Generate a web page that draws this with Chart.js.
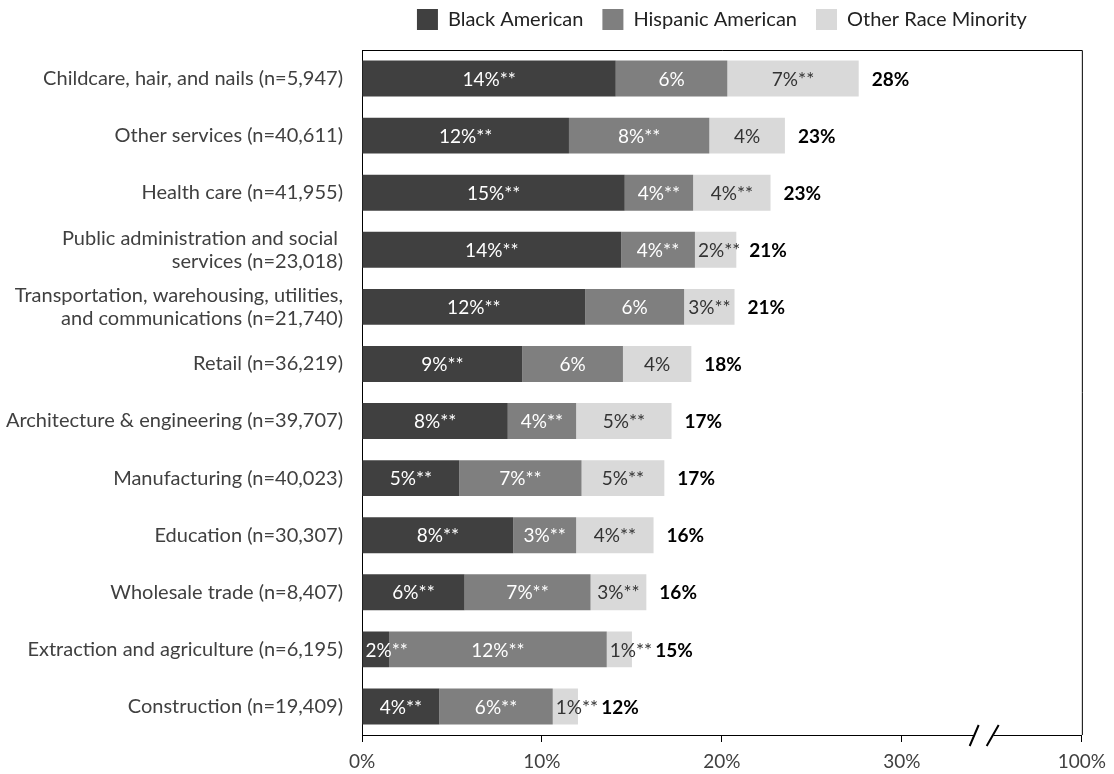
<!DOCTYPE html>
<html>
<head>
<meta charset="utf-8">
<script src="https://cdn.jsdelivr.net/npm/chart.js@4.4.1/dist/chart.umd.min.js"></script>
<style>
  html, body { margin: 0; padding: 0; background: #fff; }
  #wrap { width: 1114px; height: 774px; }
</style>
</head>
<body>
<div id="wrap"><canvas id="chart" width="1114" height="774"></canvas></div>
<script>
const categories = [
    'Childcare, hair, and nails (n=5,947)',
    'Other services (n=40,611)',
    'Health care (n=41,955)',
    ['Public administration and social ', 'services (n=23,018)'],
    ['Transportation, warehousing, utilities,', 'and communications (n=21,740)'],
    'Retail (n=36,219)',
    'Architecture & engineering (n=39,707)',
    'Manufacturing (n=40,023)',
    'Education (n=30,307)',
    'Wholesale trade (n=8,407)',
    'Extraction and agriculture (n=6,195)',
    'Construction (n=19,409)'
];

// bar lengths (percent)
const blackValues = [14.1, 11.5, 14.6, 14.4, 12.4, 8.9, 8.1, 5.4, 8.4, 5.7, 1.5, 4.3];
const hispanicValues = [6.2, 7.8, 3.8, 4.1, 5.5, 5.6, 3.8, 6.8, 3.5, 7.0, 12.1, 6.3];
const otherValues = [7.3, 4.2, 4.3, 2.3, 2.8, 3.8, 5.3, 4.6, 4.3, 3.1, 1.4, 1.4];

// printed labels
const blackLabels = ['14%**', '12%**', '15%**', '14%**', '12%**', '9%**', '8%**', '5%**', '8%**', '6%**', '2%**', '4%**'];
const hispanicLabels = ['6%', '8%**', '4%**', '4%**', '6%', '6%', '4%**', '7%**', '3%**', '7%**', '12%**', '6%**'];
const otherLabels = ['7%**', '4%', '4%**', '2%**', '3%**', '4%', '5%**', '5%**', '4%**', '3%**', '1%**', '1%**'];
const totalLabels = ['28%', '23%', '23%', '21%', '21%', '18%', '17%', '17%', '16%', '16%', '15%', '12%'];

const xTicks = [0, 10, 20, 30, 40];
const xTickLabels = ['0%', '10%', '20%', '30%', '100%'];
const axisBreakAt = 34.6;

const FONT = 'Lato, "Open Sans", sans-serif';

const segmentLabels = {
    id: 'segmentLabels',
    afterDatasetsDraw(chart) {
        const ctx = chart.ctx;
        const labelSets = [blackLabels, hispanicLabels, otherLabels];
        const colors = ['#ffffff', '#ffffff', '#333333'];
        ctx.save();
        ctx.textBaseline = 'middle';
        ctx.font = '19px ' + FONT;
        const lastEnd = [];
        labelSets.forEach((labels, d) => {
            const meta = chart.getDatasetMeta(d);
            meta.data.forEach((bar, i) => {
                const p = bar.getProps(['x', 'y', 'base'], true);
                const text = labels[i];
                const w = ctx.measureText(text).width;
                const segW = p.x - p.base;
                // too narrow: start the text at the segment's left edge
                let tx = w > segW - 4 ? p.base + 3 : (p.x + p.base) / 2 - w / 2;
                ctx.fillStyle = colors[d];
                ctx.textAlign = 'left';
                ctx.fillText(text, tx, p.y + 1);
                if (d === 2) lastEnd[i] = Math.max(p.x + 13, tx + w + 3);
            });
        });
        ctx.font = 'bold 19px ' + FONT;
        ctx.fillStyle = '#000';
        ctx.textAlign = 'left';
        const meta = chart.getDatasetMeta(2);
        meta.data.forEach((bar, i) => {
            ctx.fillText(totalLabels[i], lastEnd[i], bar.y + 1);
        });
        ctx.restore();
    }
};

const frameAndBreak = {
    id: 'frameAndBreak',
    afterDraw(chart) {
        const ctx = chart.ctx;
        const a = chart.chartArea;
        const bx = chart.scales.x.getPixelForValue(axisBreakAt);
        ctx.save();
        ctx.strokeStyle = '#000';
        ctx.lineWidth = 1;
        ctx.beginPath();
        ctx.moveTo(a.left, a.top + 0.5);
        ctx.lineTo(a.right + 0.5, a.top + 0.5);
        ctx.lineTo(a.right + 0.5, a.bottom);
        ctx.stroke();
        // axis break
        ctx.fillStyle = '#fff';
        ctx.fillRect(bx - 10, a.bottom - 2, 19, 5);
        ctx.lineWidth = 2;
        ctx.beginPath();
        ctx.moveTo(bx - 15, a.bottom + 11);
        ctx.lineTo(bx - 6, a.bottom - 10);
        ctx.moveTo(bx + 2, a.bottom + 11);
        ctx.lineTo(bx + 14, a.bottom - 10);
        ctx.stroke();
        ctx.restore();
    }
};

new Chart(document.getElementById('chart'), {
    type: 'bar',
    data: {
        labels: categories,
        datasets: [
            { label: 'Black American', data: blackValues, backgroundColor: '#404040' },
            { label: 'Hispanic American', data: hispanicValues, backgroundColor: '#7f7f7f' },
            { label: 'Other Race Minority', data: otherValues, backgroundColor: '#d9d9d9' }
        ]
    },
    options: {
        indexAxis: 'y',
        responsive: false,
        animation: false,
        barPercentage: 0.63,
        categoryPercentage: 1,
        layout: { padding: { left: 0, right: 0, top: 5, bottom: 0 } },
        plugins: {
            tooltip: { enabled: false },
            legend: {
                position: 'top',
                fullSize: false,
                labels: {
                    color: '#222',
                    font: { family: FONT, size: 20 },
                    boxWidth: 21,
                    boxHeight: 21,
                    padding: 4,
                    generateLabels(chart) {
                        const items = Chart.defaults.plugins.legend.labels.generateLabels(chart);
                        items.forEach((it, i) => {
                            it.lineWidth = 0;
                            if (i < items.length - 1) it.text = it.text + '\u2003';
                        });
                        return items;
                    }
                }
            }
        },
        scales: {
            x: {
                stacked: true,
                min: 0,
                max: 40,
                afterBuildTicks(scale) {
                    scale.ticks = xTicks.map(v => ({ value: v }));
                },
                afterFit(scale) { scale.height = 39; },
                grid: { display: true, drawOnChartArea: false, drawTicks: true, tickLength: 7, color: '#000' },
                border: { display: true, color: '#000', width: 1 },
                ticks: {
                    color: '#404040',
                    padding: 8,
                    maxRotation: 0,
                    font: { family: FONT, size: 19 },
                    callback: (v) => xTickLabels[xTicks.indexOf(v)]
                }
            },
            xTop: {
                axis: 'x',
                type: 'linear',
                position: 'top',
                display: true,
                min: 0,
                max: 40,
                grid: { display: false },
                border: { display: false },
                ticks: { display: false },
                afterFit(scale) { scale.height = 10; }
            },
            y: {
                stacked: true,
                grid: { display: false, drawTicks: false },
                border: { display: true, color: '#000', width: 1 },
                afterFit(scale) { scale.width = 362; },
                ticks: {
                    color: '#404040',
                    padding: 19,
                    autoSkip: false,
                    font: { family: FONT, size: 20, lineHeight: 1.15 }
                }
            },
            yRight: {
                axis: 'y',
                type: 'linear',
                position: 'right',
                display: true,
                grid: { display: false },
                border: { display: false },
                ticks: { display: false },
                afterFit(scale) { scale.width = 28; }
            }
        }
    },
    plugins: [segmentLabels, frameAndBreak]
});
</script>
</body>
</html>
